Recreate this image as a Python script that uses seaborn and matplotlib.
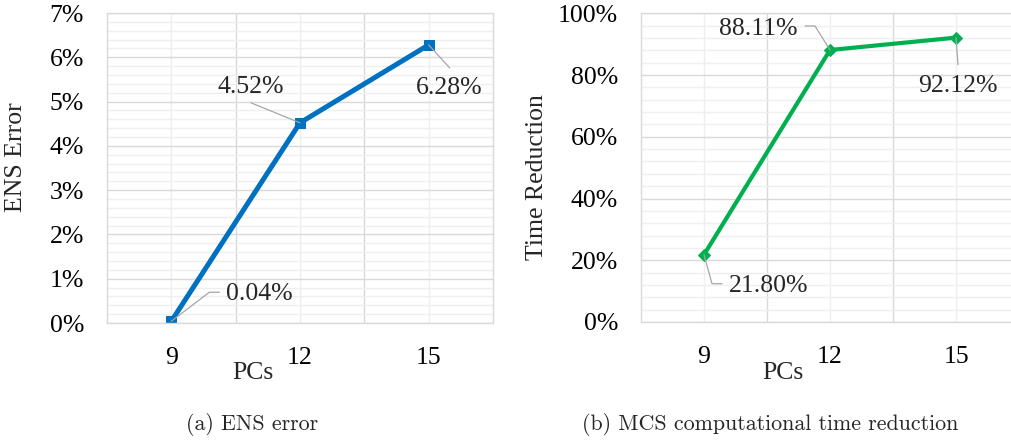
import matplotlib
matplotlib.use("Agg")
import matplotlib.pyplot as plt
import matplotlib.transforms as mtransforms
from matplotlib.ticker import PercentFormatter, MultipleLocator
import seaborn as sns
import pandas as pd

# data
pcs = [9, 12, 15]
ens_error = [0.04, 4.52, 6.28]          # %
time_reduction = [21.80, 88.11, 92.12]  # %
ens_labels = ["0.04%", "4.52%", "6.28%"]
time_labels = ["21.80%", "88.11%", "92.12%"]

sns.set_theme(style="white")
plt.rcParams["font.family"] = ["Liberation Serif", "DejaVu Serif"]
plt.rcParams["mathtext.fontset"] = "cm"

fig = plt.figure(figsize=(10.11, 4.41), dpi=100)
W, H = 1011, 441


def px_axes(x0, y0, x1, y1):
    return fig.add_axes([x0 / W, 1 - y1 / H, (x1 - x0) / W, (y1 - y0) / H])


ax1 = px_axes(107, 13, 493, 323)
ax2 = px_axes(641, 13.3, 1019, 322)

df = pd.DataFrame({"PCs": pcs, "ENS": ens_error, "Time": time_reduction})


def style_axes(ax, ymax, major, minor):
    ax.set_xlim(7.5, 16.5)
    ax.set_ylim(0, ymax)
    ax.set_xticks(pcs)
    ax.set_xticks([10.5, 13.5], minor=True)
    ax.yaxis.set_major_locator(MultipleLocator(major))
    ax.yaxis.set_minor_locator(MultipleLocator(minor))
    ax.yaxis.set_major_formatter(PercentFormatter(decimals=0))
    ax.grid(True, which="major", axis="y", color="#d9d9d9", lw=1.0)
    ax.grid(True, which="minor", axis="y", color="#efefef", lw=1.0)
    ax.grid(True, which="minor", axis="x", color="#d9d9d9", lw=1.0)
    ax.grid(True, which="major", axis="x", color="#efefef", lw=1.0)
    ax.set_axisbelow(True)
    for s in ax.spines.values():
        s.set_color("#d9d9d9")
        s.set_linewidth(1.0)
    ax.tick_params(which="both", length=0, labelsize=18.5, colors="black")
    ax.tick_params(axis="x", pad=17)
    ax.tick_params(axis="y", pad=16.5)


sns.lineplot(data=df, x="PCs", y="ENS", ax=ax1, color="#0070c0", lw=3.6,
             marker="s", markersize=7, markeredgecolor="#0070c0")
sns.lineplot(data=df, x="PCs", y="Time", ax=ax2, color="#00b050", lw=3.0,
             marker="D", markersize=6, markeredgecolor="#00b050")

style_axes(ax1, 7, 1, 0.2)
style_axes(ax2, 100, 20, 4)

ax1.set_ylabel("ENS Error", fontsize=18.5)
ax1.set_xlabel("PCs", fontsize=18.5)
ax1.yaxis.set_label_coords(-0.207, 0.535)
ax1.xaxis.set_label_coords(0.378, -0.126)

ax2.set_ylabel("Time Reduction", fontsize=18.5)
ax2.set_xlabel("PCs", fontsize=18.5)
ax2.yaxis.set_label_coords(-0.246, 0.47)
ax2.xaxis.set_label_coords(0.376, -0.129)


def label_point(ax, x, y, text, text_off, leader):
    # text_off and leader in pixels relative to the data point (y up)
    fig.canvas.draw()
    px, py = ax.transData.transform((x, y))
    xs = [px + dx for dx, dy in leader]
    ys = [py + dy for dx, dy in leader]
    ln = plt.Line2D(xs, ys, transform=mtransforms.IdentityTransform(),
                    color="#a6a6a6", lw=0.9, clip_on=False, zorder=1)
    fig.add_artist(ln)
    ax.annotate(text, xy=(x, y), xytext=(text_off[0] * 0.72, text_off[1] * 0.72),
                textcoords="offset points", ha="center", va="center",
                fontsize=18.5, annotation_clip=False)


label_point(ax1, pcs[0], ens_error[0], ens_labels[0], (88, 27), [(0, 0), (38, 29), (48, 29)])
label_point(ax1, pcs[1], ens_error[1], ens_labels[1], (-49, 36), [(-49, 20), (0, 0)])
label_point(ax1, pcs[2], ens_error[2], ens_labels[2], (21, -43), [(0, 0), (21, -23)])

label_point(ax2, pcs[0], time_reduction[0], time_labels[0], (65, -31), [(0, 0), (8, -29), (18, -29)])
label_point(ax2, pcs[1], time_reduction[1], time_labels[1], (-72, 21), [(-25, 24), (-15, 24), (0, 0)])
label_point(ax2, pcs[2], time_reduction[2], time_labels[2], (2, -48), [(0, 0), (2, -27)])

fig.text(252 / W, 1 - 425 / H, "(a) ENS error", ha="center", va="center",
         fontsize=15.8, family="cmr10")
fig.text(770 / W, 1 - 425 / H, "(b) MCS computational time reduction", ha="center",
         va="center", fontsize=15.8, family="cmr10")

fig.savefig("out.png", dpi=100)
